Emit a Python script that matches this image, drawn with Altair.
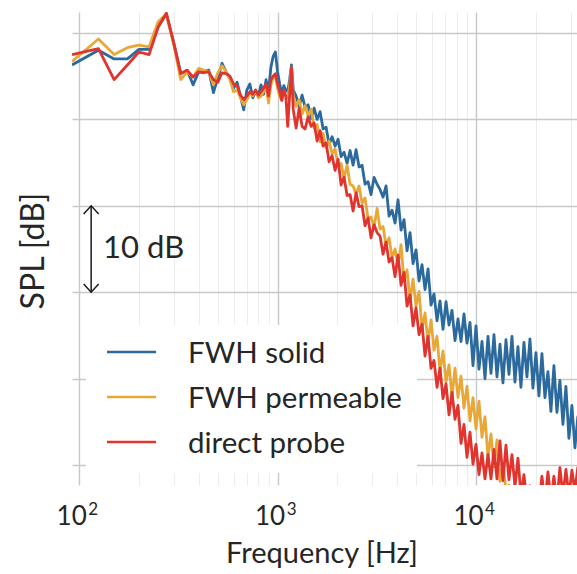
import altair as alt
import pandas as pd

# ---------------- data ----------------
freq_hz = [
    92, 125, 150, 175, 200, 225, 250, 275, 300, 325,
    350, 375, 400, 425, 450, 475, 500, 525, 550, 575,
    600, 625, 650, 675, 700, 725, 750, 775, 800, 825,
    850, 875, 900, 925, 950, 975, 1000, 1025, 1050, 1075,
    1100, 1125, 1150, 1175, 1200,
    1240, 1284, 1329, 1376, 1425, 1476, 1528, 1582, 1638, 1696,
    1756, 1818, 1883, 1949, 2018, 2090, 2164, 2240, 2320, 2402,
    2487, 2575, 2666, 2760, 2858, 2959, 3064, 3173, 3285, 3401,
    3522, 3646, 3775, 3909, 4048, 4191, 4339, 4493, 4652, 4817,
    4987, 5164, 5347, 5536, 5732, 5935, 6145, 6363, 6588, 6821,
    7063, 7313, 7572, 7840, 8117, 8405, 8702, 9010, 9329, 9660,
    10002, 10356, 10723, 11102, 11495, 11902, 12324, 12760, 13212, 13679,
    14164, 14665, 15184, 15722, 16278, 16855, 17451, 18069, 18709, 19371,
    20057, 20767, 21502, 22263, 23051, 23867, 24712, 25587, 26493, 27431,
    28402, 29407, 30448, 31526, 32642,
]

spl_fwh_solid = [
    66.3, 68.0, 67.0, 67.0, 68.1, 68.1, 70.7, 72.2, 68.8, 65.3,
    65.7, 64.0, 65.5, 65.5, 65.7, 63.1, 64.8, 66.5, 65.5, 64.8,
    63.6, 64.3, 62.7, 61.1, 63.4, 64.1, 62.5, 63.2, 62.7, 64.0,
    62.9, 64.6, 63.2, 66.0, 67.3, 67.8, 65.5, 64.1, 62.9, 63.9,
    63.4, 63.2, 64.6, 66.3, 63.4,
    62.7, 61.5, 62.8, 61.4, 61.7, 60.1, 61.3, 60.0, 60.9, 58.9,
    59.1, 57.1, 58.0, 56.9, 57.7, 55.7, 56.2, 54.9, 56.4, 54.7,
    56.5, 54.5, 54.7, 52.5, 52.8, 51.3, 53.3, 52.5, 51.9, 51.0,
    52.3, 48.8, 49.5, 48.0, 50.7, 47.2, 48.4, 44.8, 46.9, 43.3,
    44.9, 41.3, 43.2, 40.3, 42.7, 38.5, 39.8, 36.7, 39.0, 35.7,
    38.9, 36.2, 37.9, 34.4, 36.9, 34.3, 37.5, 34.1, 36.5, 31.5,
    36.1, 31.1, 34.3, 30.0, 34.9, 30.6, 35.1, 30.2, 34.0, 29.5,
    34.5, 30.5, 34.9, 29.6, 33.7, 29.0, 34.2, 30.2, 34.6, 28.9,
    33.0, 28.0, 32.9, 27.8, 30.8, 26.2, 31.5, 26.1, 29.8, 24.7,
    29.1, 23.1, 26.9, 22.0, 25.7,
]

spl_fwh_permeable = [
    66.7, 69.3, 67.5, 68.3, 68.6, 68.4, 71.3, 72.2, 68.6, 64.6,
    65.5, 64.9, 65.9, 65.7, 65.5, 64.0, 65.4, 66.2, 65.5, 64.6,
    63.2, 63.4, 62.5, 61.7, 62.3, 63.0, 62.7, 63.4, 62.5, 62.7,
    63.2, 63.9, 61.9, 64.0, 64.8, 65.0, 63.6, 62.7, 62.2, 63.2,
    62.7, 62.5, 63.9, 66.0, 62.7,
    61.5, 62.3, 60.6, 61.6, 60.4, 61.2, 59.0, 59.4, 57.4, 58.4,
    56.7, 57.5, 56.0, 56.6, 54.6, 54.9, 53.2, 54.7, 52.5, 52.3,
    51.4, 52.3, 50.3, 50.9, 48.5, 48.7, 47.5, 49.7, 47.3, 47.6,
    45.4, 46.3, 44.0, 45.0, 43.1, 45.5, 41.3, 42.6, 39.0, 41.5,
    38.4, 40.1, 35.7, 37.6, 34.2, 36.8, 33.3, 34.9, 30.8, 33.2,
    29.6, 31.6, 27.9, 31.2, 27.8, 30.3, 26.6, 29.1, 25.1, 27.8,
    24.2, 27.4, 23.2, 25.6, 20.9, 23.6, 19.8, 22.9, 18.1, 20.2,
    17.1, 17.7, 15.3, 16.3, 14.3, 15.2, 13.6, 14.3, 13.2, 13.8,
    12.6, 13.1, 12.0, 12.6, 11.5, 12.1, 11.0, 11.7, 10.6, 11.2,
    10.2, 10.9, 9.8, 10.4, 9.5,
]

spl_direct_probe = [
    67.5, 68.2, 64.6, 66.3, 67.8, 67.5, 70.7, 72.3, 68.8, 65.3,
    65.7, 64.9, 65.5, 65.4, 65.5, 64.6, 64.3, 65.4, 65.3, 65.0,
    64.1, 63.9, 62.8, 62.3, 62.7, 63.2, 62.9, 63.4, 62.8, 63.2,
    63.6, 64.1, 62.7, 64.6, 65.0, 65.3, 64.1, 63.2, 62.2, 63.4,
    62.7, 59.2, 62.7, 66.0, 61.1,
    59.0, 61.3, 59.2, 58.9, 60.3, 59.2, 59.6, 57.5, 58.7, 56.9,
    57.3, 55.1, 55.8, 54.1, 55.4, 52.4, 53.3, 51.2, 51.3, 49.4,
    51.5, 49.9, 50.0, 47.7, 48.6, 46.3, 47.8, 46.9, 46.5, 44.4,
    45.8, 43.5, 44.0, 41.8, 44.3, 40.8, 42.3, 38.4, 39.7, 36.1,
    38.2, 35.1, 36.3, 32.6, 34.9, 31.2, 32.1, 29.0, 31.2, 27.7,
    29.4, 25.8, 28.4, 25.3, 26.9, 22.5, 24.7, 20.9, 23.8, 20.1,
    22.4, 18.9, 21.4, 18.4, 21.2, 18.4, 21.8, 18.4, 22.8, 18.2,
    22.3, 18.3, 21.2, 17.5, 20.8, 16.5, 18.9, 15.6, 17.6, 15.3,
    17.4, 15.5, 18.7, 15.7, 19.2, 16.0, 18.7, 15.8, 19.7, 16.4,
    19.5, 16.4, 19.4, 17.0, 19.8,
]

series_names = ["FWH solid", "FWH permeable", "direct probe"]
series_colors = ["#2c6a9e", "#e8a838", "#e0342f"]
series_values = [spl_fwh_solid, spl_fwh_permeable, spl_direct_probe]

tick_freqs = [100, 1000, 10000]
tick_bases = ["10", "10", "10"]
tick_exps = ["2", "3", "4"]
major_freqs = [100, 1000, 10000]
grid_freqs = [100, 200, 300, 400, 500, 600, 700, 800, 900,
              1000, 2000, 3000, 4000, 5000, 6000, 7000, 8000, 9000,
              10000, 20000, 30000]
spl_grid = [20, 30, 40, 50, 60, 70]

# 10 dB scale bar
bar_freq = [114.9]
bar_top = [50]
bar_bottom = [40]
bar_label = ["10 dB"]
bar_label_freq = [132.0]
bar_label_spl = [44.0]

for v in series_values:
    assert len(v) == len(freq_hz)

# ---------------- chart ----------------
FONT = "Lato"
TXT = "#262626"

xs = alt.Scale(type="log", domain=[92, 32300], nice=False)
ys = alt.Scale(domain=[17.69, 72.43], nice=False, zero=False)

major_test = " || ".join(f"datum.value == {m}" for m in major_freqs)
x_axis = alt.Axis(
    values=grid_freqs, labels=False, ticks=False, domain=False, grid=True,
    gridColor={"condition": {"test": major_test, "value": "#c8c8c8"}, "value": "#ececec"},
    gridWidth={"condition": {"test": major_test, "value": 1.4}, "value": 1.0},
    title="Frequency [Hz]", titleFont=FONT, titleFontSize=29, titleFontWeight="normal",
    titleColor=TXT, titleX=249.5, titleY=77, titleAlign="center",
    titleBaseline="alphabetic",
)
y_axis = alt.Axis(
    values=spl_grid, labels=False, ticks=False, domain=False, grid=True,
    gridColor="#c8c8c8", gridWidth=1.3,
    title="SPL [dB]", titleFont=FONT, titleFontSize=32, titleFontWeight="normal",
    titleColor=TXT, titleX=-29, titleY=238.5, titleAngle=270, titleAlign="center",
    titleBaseline="alphabetic",
)

X = alt.X("f:Q", scale=xs, axis=x_axis)
Y = alt.Y("spl:Q", scale=ys, axis=y_axis)

one = pd.DataFrame({"a": [0]})

layers = []

# white legend background (covers the grid like the original legend frame)
layers.append(
    alt.Chart(one).mark_rect(color="white").encode(
        x=alt.value(14), x2=alt.value(345), y=alt.value(313), y2=alt.value(461)
    )
)

for name, vals, col in zip(series_names, series_values, series_colors):
    d = pd.DataFrame({"f": freq_hz, "spl": vals, "series": name})
    layers.append(
        alt.Chart(d).mark_line(color=col, strokeWidth=2.8, clip=True,
                               strokeJoin="round").encode(x=X, y=Y)
    )

# manual legend
for i, (name, col) in enumerate(zip(series_names, series_colors)):
    yy = 340 + 45 * i
    layers.append(
        alt.Chart(one).mark_rule(color=col, strokeWidth=2.6).encode(
            x=alt.value(35), x2=alt.value(84), y=alt.value(yy)
        )
    )
    layers.append(
        alt.Chart(one).mark_text(align="left", baseline="alphabetic", font=FONT,
                                 fontSize=29.5, color=TXT).encode(
            x=alt.value(116), y=alt.value(yy + 11), text=alt.value(name)
        )
    )

# 10 dB scale bar
bar_df = pd.DataFrame({"f": bar_freq, "spl": bar_top, "spl2": bar_bottom})
layers.append(
    alt.Chart(bar_df).mark_rule(color="#1a1a1a", strokeWidth=1.5).encode(
        x=X, y=Y, y2="spl2:Q"
    )
)
layers.append(
    alt.Chart(pd.DataFrame({"f": bar_freq, "spl": bar_top})).mark_point(
        shape="M-1,1.1L0,0L1,1.1", size=225, filled=False, color="#1a1a1a",
        strokeWidth=1.5, opacity=1).encode(x=X, y=Y)
)
layers.append(
    alt.Chart(pd.DataFrame({"f": bar_freq, "spl": bar_bottom})).mark_point(
        shape="M-1,-1.1L0,0L1,-1.1", size=225, filled=False, color="#1a1a1a",
        strokeWidth=1.5, opacity=1).encode(x=X, y=Y)
)
layers.append(
    alt.Chart(pd.DataFrame({"f": bar_label_freq, "spl": bar_label_spl,
                            "t": bar_label})).mark_text(
        align="left", baseline="alphabetic", font=FONT, fontSize=31, color=TXT
    ).encode(x=X, y=Y, text="t:N")
)

# x tick labels as 10^n with superscripts
tick_df = pd.DataFrame({"f": tick_freqs, "b": tick_bases, "e": tick_exps})
layers.append(
    alt.Chart(tick_df).mark_text(align="center", baseline="alphabetic", font=FONT,
                                 fontSize=26, color=TXT, dx=-7.5).encode(
        x=X, y=alt.value(513), text="b:N")
)
layers.append(
    alt.Chart(tick_df).mark_text(align="center", baseline="alphabetic", font=FONT,
                                 fontSize=17, color=TXT, dx=14).encode(
        x=X, y=alt.value(503), text="e:N")
)

chart = alt.layer(*layers).properties(
    width=505, height=473,
    autosize=alt.AutoSizeParams(type="none"),
    padding={"left": 72, "top": 12, "right": 0, "bottom": 89},
    background="white",
).configure_view(stroke=None)

chart.save("out.html", embed_options={"renderer": "svg", "actions": False})
